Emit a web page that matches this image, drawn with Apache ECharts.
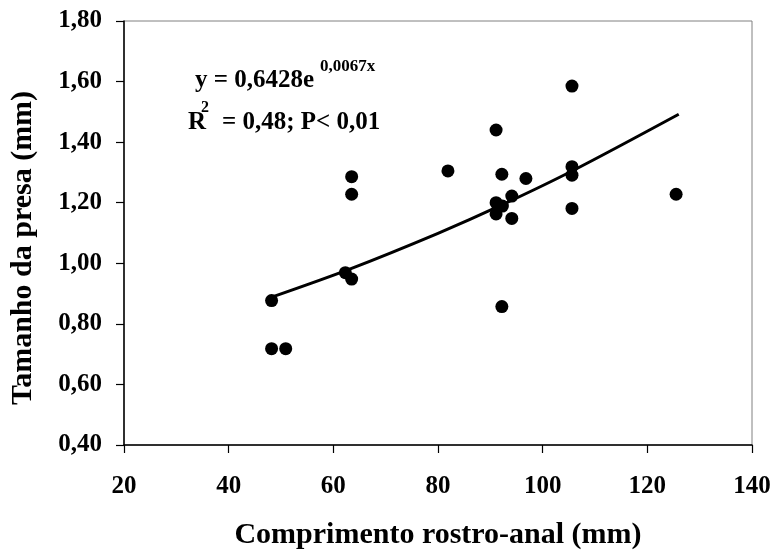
<!DOCTYPE html>
<html>
<head>
<meta charset="utf-8">
<script src="https://cdn.jsdelivr.net/npm/echarts@6/dist/echarts.min.js"></script>
<style>html,body{margin:0;padding:0;background:#fff;}#c{width:773px;height:552px;}</style>
</head>
<body>
<div id="c"></div>
<script>
// Observed points: comprimento rostro-anal (mm) vs tamanho da presa (mm)
const crX = [48.2, 48.2, 50.9, 62.3, 63.5, 63.5, 63.5, 81.9, 91.1, 91.1, 91.1, 92.2, 92.3, 92.2, 94.1, 94.1, 96.8, 105.6, 105.6, 105.6, 105.6, 125.5];
const presaY = [0.877, 0.718, 0.718, 0.969, 0.948, 1.228, 1.286, 1.305, 1.440, 1.200, 1.163, 1.294, 1.189, 0.857, 1.222, 1.148, 1.280, 1.585, 1.319, 1.291, 1.181, 1.228];
// Trend line (exponential fit)
const trendX = [48.5, 63, 80, 92, 106, 126];
const trendY = [0.890, 0.980, 1.099, 1.191, 1.308, 1.492];
// Tick labels
const yTickLabels = ['0,40', '0,60', '0,80', '1,00', '1,20', '1,40', '1,60', '1,80'];
const xTickLabels = ['20', '40', '60', '80', '100', '120', '140'];
const eqMain = 'y = 0,6428e';
const eqExp = '0,0067x';
const r2Main = 'R';
const r2Sup = '2';
const r2Rest = '= 0,48; P< 0,01';

const FONT = '"Liberation Serif", "Times New Roman", serif';
const chart = echarts.init(document.getElementById('c'), null, {renderer: 'canvas'});
const pts = crX.map((x, i) => [x, presaY[i]]);
const trend = trendX.map((x, i) => [x, trendY[i]]);

chart.setOption({
  animation: false,
  backgroundColor: '#ffffff',
  grid: {left: 124, right: 21, top: 21, bottom: 107, containLabel: false, outerBoundsMode: 'none',
    show: true, borderColor: '#808080', borderWidth: 1, backgroundColor: 'transparent'},
  xAxis: {
    type: 'value', min: 20, max: 140, interval: 20,
    name: 'Comprimento rostro-anal (mm)', nameLocation: 'middle', nameGap: 75,
    nameTextStyle: {fontFamily: FONT, fontWeight: 'bold', fontSize: 30, color: '#000'},
    axisLine: {show: true, onZero: false, lineStyle: {color: '#000', width: 1.5}},
    axisTick: {show: true, inside: false, length: 8, lineStyle: {color: '#000', width: 1.2}},
    axisLabel: {margin: 29, fontFamily: FONT, fontWeight: 'bold', fontSize: 25, color: '#000',
      formatter: (v) => xTickLabels[Math.round((v - 20) / 20)]},
    splitLine: {show: false}
  },
  yAxis: {
    type: 'value', min: 0.4, max: 1.8, interval: 0.2,
    name: 'Tamanho da presa (mm)', nameLocation: 'middle', nameGap: 86, nameRotate: 90,
    nameTextStyle: {fontFamily: FONT, fontWeight: 'bold', fontSize: 30, color: '#000', padding: [0, 0, 0, -30]},
    axisLine: {show: true, onZero: false, lineStyle: {color: '#000', width: 1.5}},
    axisTick: {show: true, inside: false, length: 8, lineStyle: {color: '#000', width: 1.2}},
    axisLabel: {margin: 22, fontFamily: FONT, fontWeight: 'bold', fontSize: 25, color: '#000',
      formatter: (v) => yTickLabels[Math.round((v - 0.4) / 0.2)]},
    splitLine: {show: false}
  },
  series: [
    {
      type: 'line', data: trend, showSymbol: false, smooth: 0.3,
      lineStyle: {color: '#000', width: 3}, z: 2
    },
    {
      type: 'scatter', data: pts, symbol: 'circle', symbolSize: 13,
      itemStyle: {color: '#000', opacity: 1}, z: 3
    }
  ],
  graphic: [
    {type: 'text', left: 195, top: 68, style: {text: eqMain, fontFamily: FONT, fontWeight: 'bold', fontSize: 25, fill: '#000'}},
    {type: 'text', left: 320, top: 58, style: {text: eqExp, fontFamily: FONT, fontWeight: 'bold', fontSize: 17, fill: '#000'}},
    {type: 'text', left: 188, top: 110, style: {text: r2Main, fontFamily: FONT, fontWeight: 'bold', fontSize: 25, fill: '#000'}},
    {type: 'text', left: 201, top: 100, style: {text: r2Sup, fontFamily: FONT, fontWeight: 'bold', fontSize: 16, fill: '#000'}},
    {type: 'text', left: 222, top: 110, style: {text: r2Rest, fontFamily: FONT, fontWeight: 'bold', fontSize: 25, fill: '#000'}}
  ]
});
</script>
</body>
</html>
